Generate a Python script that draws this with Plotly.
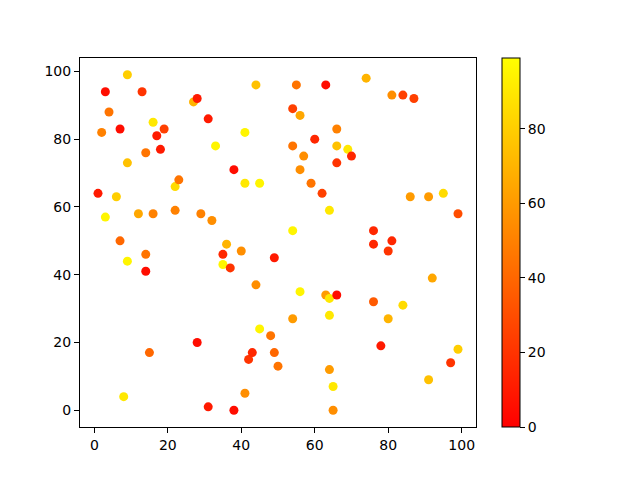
import plotly.graph_objects as go

# scatter points
x_vals = [1, 2, 3, 3, 4, 6, 7, 7, 8, 9,
          9, 9, 12, 13, 14, 14, 14, 15, 16, 16,
          17, 18, 19, 22, 22, 23, 27, 28, 28, 29,
          31, 31, 32, 33, 35, 35, 36, 37, 38, 38,
          40, 41, 41, 41, 42, 43, 44, 44, 45, 45,
          48, 49, 49, 50, 54, 54, 54, 54, 55, 56,
          56, 56, 57, 59, 60, 62, 63, 63, 64, 64,
          64, 64, 65, 65, 66, 66, 66, 66, 69, 70,
          74, 76, 76, 76, 78, 80, 80, 81, 81, 84,
          84, 86, 87, 91, 91, 92, 95, 97, 99, 99]
y_vals = [64, 82, 94, 57, 88, 63, 83, 50, 4, 99,
          73, 44, 58, 94, 76, 46, 41, 17, 85, 58,
          81, 77, 83, 66, 59, 68, 91, 92, 20, 58,
          86, 1, 56, 78, 46, 43, 49, 42, 71, 0,
          47, 82, 67, 5, 15, 17, 96, 37, 67, 24,
          22, 45, 17, 13, 89, 78, 53, 27, 96, 87,
          71, 35, 75, 67, 80, 64, 96, 34, 59, 33,
          28, 12, 7, 0, 83, 78, 73, 34, 77, 75,
          98, 53, 49, 32, 19, 47, 27, 50, 93, 93,
          31, 63, 92, 63, 9, 39, 64, 14, 58, 18]
c_vals = [10, 50, 5, 95, 45, 80, 5, 40, 90, 80,
          75, 95, 65, 20, 45, 45, 5, 40, 90, 50,
          10, 10, 25, 85, 50, 45, 70, 10, 5, 50,
          10, 10, 55, 95, 15, 95, 70, 20, 5, 5,
          55, 95, 90, 55, 20, 15, 75, 55, 95, 95,
          45, 10, 40, 45, 25, 45, 95, 60, 45, 65,
          55, 95, 55, 45, 15, 25, 5, 60, 90, 90,
          90, 60, 90, 55, 50, 75, 20, 5, 90, 15,
          70, 15, 15, 35, 10, 20, 70, 15, 55, 25,
          85, 60, 25, 60, 75, 65, 85, 20, 30, 80]
cbar_ticks = [0, 20, 40, 60, 80]

autumn = [[0, "rgb(255,0,0)"], [1, "rgb(255,255,0)"]]

fig = go.Figure()
fig.add_trace(go.Scatter(
    x=x_vals, y=y_vals, mode="markers",
    marker=dict(size=9, color=c_vals, colorscale=autumn, cmin=0, cmax=99,
                line=dict(width=0),
                colorbar=dict(thickness=18, len=1, lenmode="fraction",
                              y=0, yanchor="bottom", ypad=0,
                              x=494 / 640, xref="container", xanchor="left", xpad=0,
                              outlinewidth=1, outlinecolor="black",
                              tickvals=cbar_ticks, ticks="outside", ticklen=5,
                              tickcolor="black",
                              tickfont=dict(size=14, color="black"))),
    showlegend=False,
))

axis_style = dict(showgrid=False, zeroline=False, showline=True, linecolor="black",
                  linewidth=1, mirror=True, ticks="outside", ticklen=5,
                  tickcolor="black", tickfont=dict(size=14, color="black"),
                  tickvals=[0, 20, 40, 60, 80, 100])

fig.update_xaxes(range=[-3.9, 103.9], **axis_style)
fig.update_yaxes(range=[-4.95, 103.95], **axis_style)

# the page adds an 8px body margin, so margins are shifted to compensate
fig.update_layout(
    width=640, height=480,
    margin=dict(l=72, r=172, t=50, b=61),
    plot_bgcolor="white", paper_bgcolor="white",
    font=dict(family="DejaVu Sans", color="black"),
)

fig.write_html("out.html")
